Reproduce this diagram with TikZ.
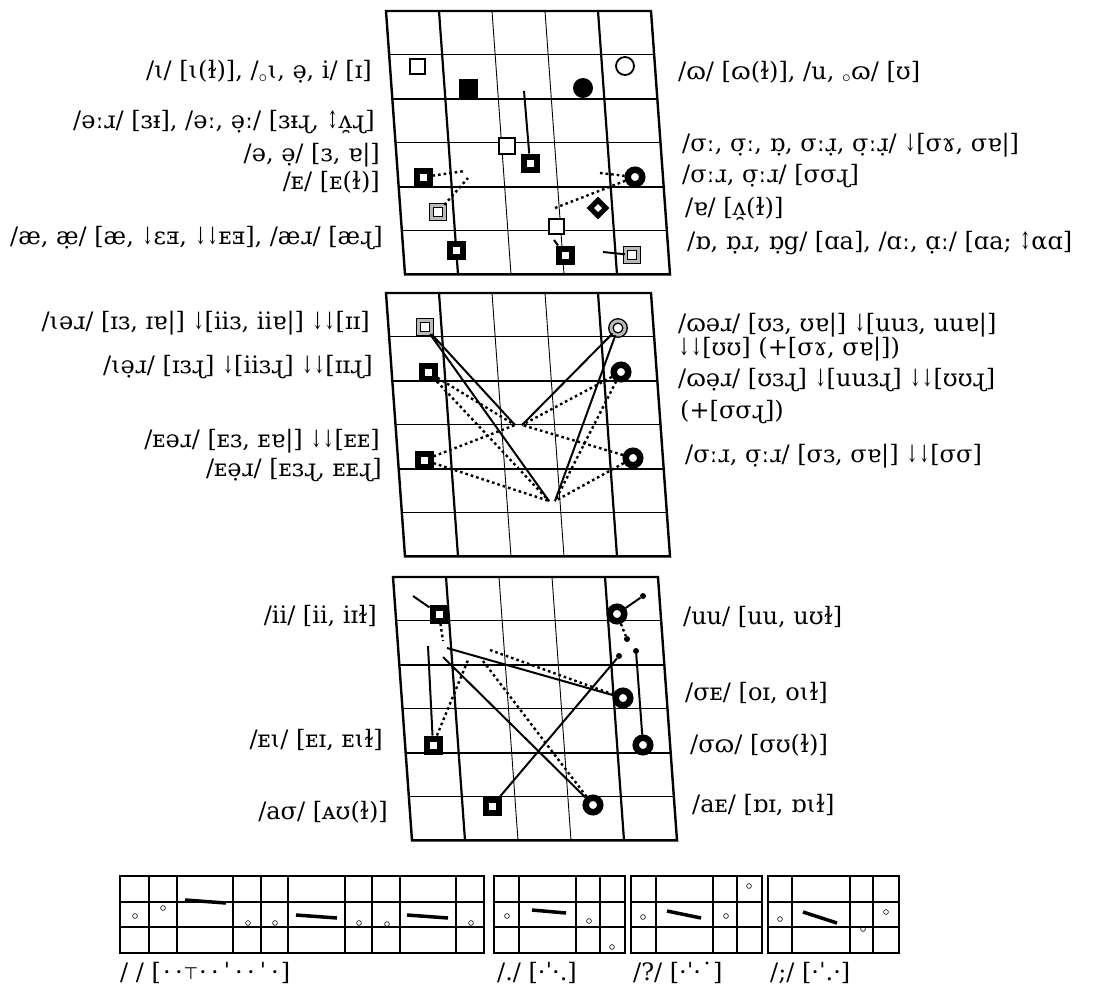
\documentclass[tikz,border=0pt]{standalone}
\usepackage{fontspec}
\usepackage{graphicx}
\setmainfont{DejaVu Serif}
\newfontfamily\symf{DejaVu Sans}
\newcommand\dn{\scalebox{0.6}[1]{↓}}
\newcommand\ud{\scalebox{0.6}[1]{↕}}
\newcommand\hst{\raisebox{0.1ex}{\symf\scalebox{0.7}{⊤}}}
\newcommand\sy[1]{\makebox[12pt]{#1}}

\begin{document}
\begin{tikzpicture}[x=1pt,y=-1pt,
  lab/.style={font=\fontsize{24}{28}\selectfont,inner sep=0pt},
  opensq/.style={draw,fill=white,line width=2pt,minimum size=15pt,inner sep=0pt},
  fullsq/.style={fill=black,minimum size=19pt,inner sep=0pt},
  fulldot/.style={circle,fill=black,minimum size=20pt,inner sep=0pt},
  opendot/.style={circle,draw,fill=white,line width=1.8pt,minimum size=18pt,inner sep=0pt},
  holesq/.style={draw,fill=white,line width=6pt,minimum size=13pt,inner sep=0pt},
  holedia/.style={draw,fill=white,line width=5pt,minimum size=11pt,inner sep=0pt,rotate=45},
  ring/.style={circle,draw,fill=white,line width=6.5pt,minimum size=14.5pt,inner sep=0pt},
  graysq/.style={draw,double=gray!55,double distance=3pt,line width=1.4pt,fill=white,minimum size=13pt,inner sep=0pt},
  graydot/.style={graysq,circle,minimum size=14pt},
  pip/.style={circle,fill=black,minimum size=6pt,inner sep=0pt},
  link/.style={line width=2pt},
  dots/.style={line width=2.4pt,dash pattern=on 2.6pt off 3pt}]
\useasboundingbox (0,0) rectangle (1104,989);
\def\cw{53}
\def\rh{43.9}
\def\sk{19}

% the three vowel grids
\foreach \cx/\cy in {386/11,386/293,393/577}{
  \foreach \j/\w in {1/0.9pt,2/2.2pt,3/0.9pt,4/2.2pt,5/0.9pt}
    \draw[line width=\w] ({\cx+\sk*\j/6},{\cy+\rh*\j}) -- ++(5*\cw,0);
  \foreach \i/\w in {1/2.2pt,2/0.9pt,3/0.9pt,4/2.2pt}
    \draw[line width=\w] ({\cx+\i*\cw},\cy) -- ++(\sk,6*\rh);
  \draw[line width=2.4pt] (\cx,\cy) -- ++(5*\cw,0) -- ++(\sk,6*\rh) -- ++(-5*\cw,0) -- cycle;
}

% chart 1: monophthongs
\node[opensq] (a1) at (417,66) {};
\node[fullsq] (a2) at (468,88) {};
\node[fulldot] (a3) at (583,88) {};
\node[opendot] (a4) at (625,66) {};
\node[opensq,minimum size=16pt] (a5) at (507,146) {};
\node[holesq] (a6) at (530,163) {};
\node[holesq] (a7) at (423,177) {};
\node[graysq] (a8) at (438,212) {};
\node[holesq] (a9) at (456,250) {};
\node[opensq] (a10) at (556,226) {};
\node[holesq] (a11) at (565,255) {};
\node[ring] (a12) at (635,177) {};
\node[holedia] (a13) at (598,208) {};
\node[graysq] (a14) at (632,255) {};
\coordinate (a6s) at (524,91);
\coordinate (a7e) at (465,171);
\coordinate (a8e) at (468,178);
\coordinate (a10e) at (555,208);
\coordinate (a11s) at (554,240);
\coordinate (a12s) at (600,173);
\coordinate (a14s) at (603,252);
\draw[link] (a6s) -- (a6);
\draw[dots] (a7) -- (a7e);
\draw[dots] (a8) -- (a8e);
\draw[dots] (a10e) -- (a12);
\draw[link] (a11s) -- (a11);
\draw[dots] (a12s) -- (a12);
\draw[link] (a14s) -- (a14);

\node[lab,anchor=east] (la1) at (372,72) {/ɩ/ [ɩ(ɫ)], /$_\circ$ɩ, ə̣, i/ [ɪ]};
\node[lab,anchor=east] (la2) at (375,122) {/əːɹ/ [ɜᵻ], /əː, ə̣ː/ [ɜᵻɻ, \ud ʌ̯ɻ]};
\node[lab,anchor=east] (la3) at (380,155) {/ə, ə̣/ [ɜ, ɐ|]};
\node[lab,anchor=east] (la4) at (380,182) {/ᴇ/ [ᴇ(ɫ)]};
\node[lab,anchor=east] (la5) at (383,238) {/æ, æ̣/ [æ, \dn ɛⱻ, \dn\dn ᴇⱻ], /æɹ/ [æɻ]};
\node[lab,anchor=west] (ra1) at (678,72) {/ɷ/ [ɷ(ɫ)], /u, $_\circ$ɷ/ [ʊ]};
\node[lab,anchor=west] (ra2) at (682,145) {/σː, σ̣ː, ɒ̣, σːɹ̣, σ̣ːɹ̣/ \dn[σɤ, σɐ|]};
\node[lab,anchor=west] (ra3) at (682,176) {/σːɹ, σ̣ːɹ/ [σσɻ]};
\node[lab,anchor=west] (ra4) at (685,209) {/ɐ/ [ʌ̯(ɫ)]};
\node[lab,anchor=west] (ra5) at (687,243) {/ɒ, ɒ̣ɹ, ɒ̣g/ [ɑa], /ɑː, ɑ̣ː/ [ɑa; \ud αɑ]};

% chart 2: centring diphthongs
\node[graysq] (b1) at (425,327) {};
\node[graydot] (b2) at (618,328) {};
\node[holesq] (b3) at (428,372) {};
\node[ring] (b4) at (621,372) {};
\node[holesq] (b5) at (424,460) {};
\node[ring] (b6) at (633,458) {};
\coordinate (c1) at (515,425);
\coordinate (c2) at (522,425);
\coordinate (d1) at (549,501);
\coordinate (d2) at (555,501);
\draw[link] (b1) -- (c1) (b1) -- (d1);
\draw[link] (b2) -- (c2) (b2) -- (d2);
\foreach \m in {b3,b5} \draw[dots] (\m) -- (c1) (\m) -- (d1);
\foreach \m in {b4,b6} \draw[dots] (\m) -- (c2) (\m) -- (d2);

\node[lab,anchor=east] (lb1) at (370,323) {/ɩəɹ/ [ɪɜ, ɪɐ|] \dn[iiɜ, iiɐ|] \dn\dn[ɪɪ]};
\node[lab,anchor=east] (lb2) at (373,367) {/ɩə̣ɹ/ [ɪɜɻ] \dn[iiɜɻ] \dn\dn[ɪɪɻ]};
\node[lab,anchor=east] (lb3) at (380,441) {/ᴇəɹ/ [ᴇɜ, ᴇɐ|] \dn\dn[ᴇᴇ]};
\node[lab,anchor=east] (lb4) at (382,470) {/ᴇə̣ɹ/ [ᴇɜɻ, ᴇᴇɻ]};
\node[lab,anchor=west] (rb1) at (678,325) {/ɷəɹ/ [ʊɜ, ʊɐ|] \dn[uuɜ, uuɐ|]};
\node[lab,anchor=west] (rb2) at (678,349) {\dn\dn[ʊʊ] (+[σɤ, σɐ|])};
\node[lab,anchor=west] (rb3) at (678,380) {/ɷə̣ɹ/ [ʊɜɻ] \dn[uuɜɻ] \dn\dn[ʊʊɻ]};
\node[lab,anchor=west] (rb4) at (680,412) {(+[σσɻ])};
\node[lab,anchor=west] (rb5) at (685,456) {/σːɹ, σ̣ːɹ/ [σɜ, σɐ|] \dn\dn[σσ]};

% chart 3: closing diphthongs
\node[holesq] (e1) at (439,614) {};
\node[ring] (e2) at (617,614) {};
\node[ring] (e3) at (623,698) {};
\node[holesq] (e4) at (433,745) {};
\node[ring] (e5) at (643,745) {};
\node[holesq] (e6) at (492,806) {};
\node[ring] (e7) at (593,805) {};
\node[pip] (f1) at (643,596) {};
\node[pip] (f2) at (627,639) {};
\node[pip] (f3) at (636,651) {};
\node[pip] (f4) at (619,656) {};
\coordinate (e1s) at (413,596);
\coordinate (e1d) at (443,641);
\coordinate (e3s) at (447,648);
\coordinate (e3d) at (490,650);
\coordinate (e4s) at (428,646);
\coordinate (e4d) at (468,660);
\coordinate (e7s) at (443,657);
\coordinate (e7d) at (483,661);
\draw[link] (e1s) -- (e1);
\draw[dots] (e1) -- (e1d);
\draw[link] (e2) -- (f1);
\draw[dots] (e2) -- (f2);
\draw[link] (e3s) -- (e3);
\draw[dots] (e3d) -- (e3);
\draw[link] (e4) -- (e4s);
\draw[dots] (e4) -- (e4d);
\draw[link] (e5) -- (f3);
\draw[link] (e6) -- (f4);
\draw[link] (e7s) -- (e7);
\draw[dots] (e7d) -- (e7);

\node[lab,anchor=east] (lc1) at (377,616) {/ii/ [ii, iɪɫ]};
\node[lab,anchor=east] (lc2) at (383,740) {/ᴇɩ/ [ᴇɪ, ᴇɩɫ]};
\node[lab,anchor=east] (lc3) at (388,812) {/aσ/ [ᴀʊ(ɫ)]};
\node[lab,anchor=west] (rc1) at (683,617) {/uu/ [uu, uʊɫ]};
\node[lab,anchor=west] (rc2) at (685,693) {/σᴇ/ [oɪ, oɩɫ]};
\node[lab,anchor=west] (rc3) at (690,745) {/σɷ/ [σʊ(ɫ)]};
\node[lab,anchor=west] (rc4) at (692,805) {/aᴇ/ [ɒɪ, ɒɩɫ]};

% intonation strips
\foreach \xa/\xb in {120/484,494/625,631/762,768/899}{
  \draw[line width=1.2pt] (\xa,902) -- (\xb,902) (\xa,927) -- (\xb,927);
  \draw[line width=2.6pt] (\xa,876) rectangle (\xb,953);
}
\foreach \x in {177,233,288,345,400,456,519,576,656,713,792,850}
  \draw[line width=2.4pt] (\x,876) -- (\x,953);
\foreach \x in {149,261,372,600,737,873}
  \draw[line width=1.2pt] (\x,876) -- (\x,953);
\foreach \xa/\ya/\xb/\yb in {185/900/226/903,296/915/337/918,407/915/448/918,
    532/910/566/913,667/911/701/918,803/912/837/923}
  \draw[line width=3.5pt] (\xa,\ya) -- (\xb,\yb);
\foreach \x/\y in {135/916,163/908,248/923,275/923,359/923,387/924,471/923,
    507/916,589/921,612/947,643/917,726/916,749/886,780/919,863/929,886/912}
  \draw[line width=0.6pt] (\x,\y) circle (2.4);

\node[lab,anchor=west] (ld1) at (120,973) {/ / [\sy{·}\sy{·}\sy{\hst}\sy{·}\sy{·}\sy{ˈ}\sy{·}\sy{·}\sy{ˈ}\sy{·}]};
\node[lab,anchor=west] (ld2) at (497,973) {/./ [·ˈ·.]};
\node[lab,anchor=west] (ld3) at (633,973) {/?/ [·ˈ·˙]};
\node[lab,anchor=west] (ld4) at (770,973) {/;/ [·ˈ.·]};
\end{tikzpicture}
\end{document}
